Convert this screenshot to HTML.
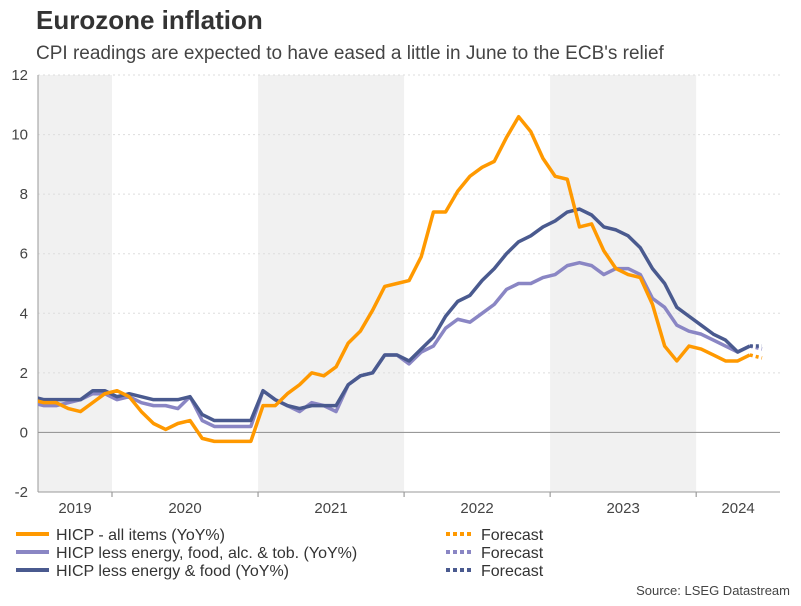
<!DOCTYPE html>
<html><head><meta charset="utf-8">
<style>
body{margin:0;background:#fff;font-family:"Liberation Sans",Arial,sans-serif;}
svg text{font-family:"Liberation Sans",Arial,sans-serif;}
</style></head>
<body>
<svg width="801" height="601" xmlns="http://www.w3.org/2000/svg" id="chart">
<defs><clipPath id="pc"><rect x="38" y="60" width="745" height="432"/></clipPath></defs>
<text x="36" y="29" font-size="26" font-weight="bold" fill="#333">Eurozone inflation</text>
<text x="36" y="59" font-size="19" fill="#444">CPI readings are expected to have eased a little in June to the ECB's relief</text>
<g id="plot"></g>
<g id="legend"></g>
<text x="790" y="595" font-size="13" fill="#444" text-anchor="end">Source: LSEG Datastream</text>
</svg>
<script>
const years=["2019","2020","2021","2022","2023","2024"];
const yTicks=[-2,0,2,4,6,8,10,12];
// monthly values starting June 2019
const headline=[1.1,1.0,1.0,0.8,0.7,1.0,1.3,1.4,1.2,0.7,0.3,0.1,0.3,0.4,-0.2,-0.3,-0.3,-0.3,-0.3,0.9,0.9,1.3,1.6,2.0,1.9,2.2,3.0,3.4,4.1,4.9,5.0,5.1,5.9,7.4,7.4,8.1,8.6,8.9,9.1,9.9,10.6,10.1,9.2,8.6,8.5,6.9,7.0,6.1,5.5,5.3,5.2,4.3,2.9,2.4,2.9,2.8,2.6,2.4,2.4,2.6];
const headlineFc=[2.6,2.5];
const coreAlc=[1.0,0.9,0.9,1.0,1.1,1.3,1.3,1.1,1.2,1.0,0.9,0.9,0.8,1.2,0.4,0.2,0.2,0.2,0.2,1.4,1.1,0.9,0.7,1.0,0.9,0.7,1.6,1.9,2.0,2.6,2.6,2.3,2.7,2.9,3.5,3.8,3.7,4.0,4.3,4.8,5.0,5.0,5.2,5.3,5.6,5.7,5.6,5.3,5.5,5.5,5.3,4.5,4.2,3.6,3.4,3.3,3.1,2.9,2.7,2.9];
const coreAlcFc=[2.9,2.8];
const coreEF=[1.2,1.1,1.1,1.1,1.1,1.4,1.4,1.2,1.3,1.2,1.1,1.1,1.1,1.2,0.6,0.4,0.4,0.4,0.4,1.4,1.1,0.9,0.8,0.9,0.9,0.9,1.6,1.9,2.0,2.6,2.6,2.4,2.8,3.2,3.9,4.4,4.6,5.1,5.5,6.0,6.4,6.6,6.9,7.1,7.4,7.5,7.3,6.9,6.8,6.6,6.2,5.5,5.0,4.2,3.9,3.6,3.3,3.1,2.7,2.9];
const coreEFFc=[2.9,2.9];
</script>
<script>
const NS="http://www.w3.org/2000/svg";
const X0=38,X1=780,YT=75,YB=492,MW=12.17,JAN2020=112,SHIFT=5;
// index 0 = June 2019
function xm(i){return JAN2020+(i-7)*MW+SHIFT;}
function y(v){return YB-(v-(-2))/(14)*(YB-YT);}
function mk(tag,a,parent){const e=document.createElementNS(NS,tag);for(const k in a)e.setAttribute(k,a[k]);parent.appendChild(e);return e;}
const plot=document.getElementById('plot');
years.forEach((yr,k)=>{
  const x0=Math.max(X0,JAN2020+(k-1)*12*MW), x1=Math.min(X1,JAN2020+k*12*MW);
  if(k%2===0){
    const r=mk('rect',{x:x0,y:YT,width:x1-x0,height:YB-YT,fill:'#f1f1f1'},plot);
    
    
  }
  const t=mk('text',{x:(x0+x1)/2,y:513,'font-size':15,fill:'#444','text-anchor':'middle'},plot);
  t.textContent=yr;
  
  
  if(k>0){mk('line',{x1:x0,x2:x0,y1:YB,y2:YB+5,stroke:'#888'},plot);}
});
yTicks.forEach(v=>{
  const g=mk('line',{x1:X0,x2:X1,y1:y(v),y2:y(v),stroke:v===0?'#999':'#ddd','stroke-dasharray':v===0?'':'2,3','stroke-width':v===0?1.2:1},plot);
  
  
  const t=mk('text',{x:28,y:y(v)+5,'font-size':15,fill:'#444','text-anchor':'end'},plot);
  t.textContent=v;
  
  
});
mk('line',{x1:X0,x2:X0,y1:YT,y2:YB,stroke:'#999'},plot);
mk('line',{x1:X0,x2:X1,y1:YB,y2:YB,stroke:'#999'},plot);
const lines=mk('g',{'clip-path':'url(#pc)'},plot);
function series(data,fc,color,name){
  const pts=data.map((v,i)=>xm(i)+','+y(v)).join(' ');
  const p=mk('polyline',{points:pts,fill:'none',stroke:color,'stroke-width':3.5,'stroke-linejoin':'round'},lines);
  
  
  const n=data.length-1;
  const fp=[xm(n)+','+y(fc[0]),xm(n+1)+','+y(fc[1])].join(' ');
  const f=mk('polyline',{points:fp,fill:'none',stroke:color,'stroke-width':3.5,'stroke-dasharray':'3,3'},lines);
  
  
}
series(coreAlc,coreAlcFc,'#8a86c4','hicp-core-alc-tob');
series(coreEF,coreEFFc,'#4a5a8f','hicp-core-energy-food');
series(headline,headlineFc,'#ff9900','hicp-all-items');
const leg=document.getElementById('legend');
const items=[['HICP - all items (YoY%)','#ff9900'],['HICP less energy, food, alc. & tob. (YoY%)','#8a86c4'],['HICP less energy & food (YoY%)','#4a5a8f']];
items.forEach((it,i)=>{
  const yy=534+i*18;
  const g=mk('g',{},leg);
  
  
  mk('line',{x1:16,x2:49,y1:yy,y2:yy,stroke:it[1],'stroke-width':4},g);
  const t=mk('text',{x:56,y:yy+6,'font-size':16,fill:'#333'},g);
  t.textContent=it[0];
  const g2=mk('g',{},leg);
  
  
  mk('line',{x1:446,x2:474,y1:yy,y2:yy,stroke:it[1],'stroke-width':4,'stroke-dasharray':'4,3'},g2);
  const t2=mk('text',{x:481,y:yy+6,'font-size':16,fill:'#333'},g2);
  t2.textContent='Forecast';
});
</script>
</body></html>
